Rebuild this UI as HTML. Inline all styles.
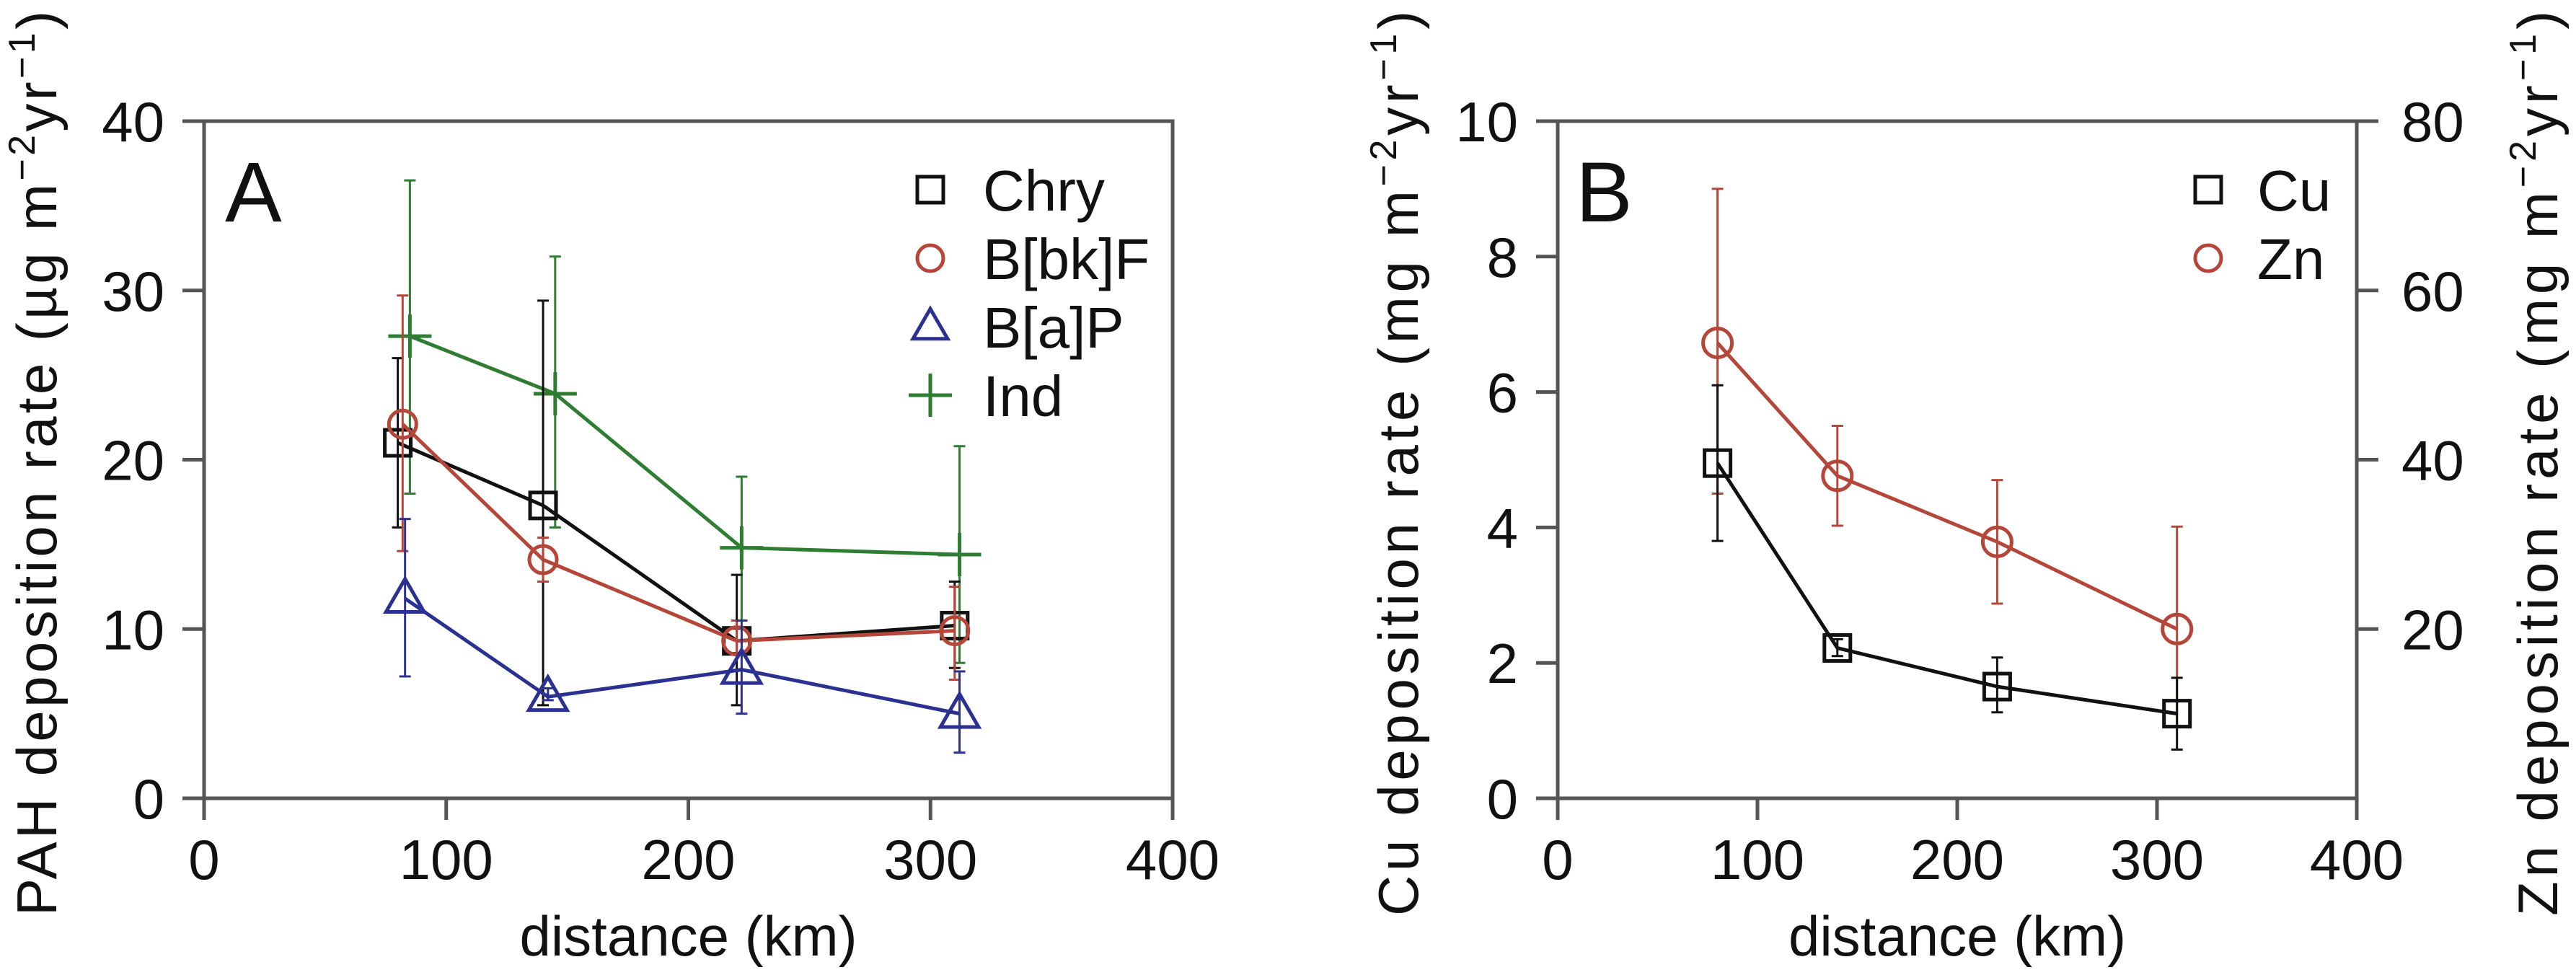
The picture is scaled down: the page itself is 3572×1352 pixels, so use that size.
<!DOCTYPE html>
<html><head><meta charset="utf-8"><style>
html,body{margin:0;padding:0;background:#fff}
svg{display:block}
text{font-family:"Liberation Sans",sans-serif;fill:#111}
</style></head><body>
<svg id="chart" width="3572" height="1352" viewBox="0 0 3572 1352" xmlns="http://www.w3.org/2000/svg"></svg>
<script>
// Panel A data
const distA = [[80,140,220,310],[82,140,220,310],[83,142,222,312],[85,145,222,312]];
const seriesA = ["Chry","B[bk]F","B[a]P","Ind"];
const chry = [21.0,17.3,9.3,10.2];
const chryLo = [16,5.5,5.5,7.7];
const chryHi = [26,29.4,13.2,12.8];
const bbkf = [22.1,14.1,9.3,9.9];
const bbkfLo = [14.6,12.8,8.5,7.0];
const bbkfHi = [29.7,15.4,10.5,12.5];
const bap = [11.8,6.0,7.6,5.0];
const bapLo = [7.2,5.8,5.0,2.7];
const bapHi = [16.5,6.5,10.5,7.5];
const ind = [27.3,23.9,14.8,14.4];
const indLo = [18,16,10.5,8.0];
const indHi = [36.5,32,19,20.8];
const ticksAx = [0,100,200,300,400];
const ticksAy = [0,10,20,30,40];
// Panel B data
const distB = [80,140,220,310];
const cu = [4.95,2.22,1.65,1.25];
const cuLo = [3.8,2.1,1.27,0.72];
const cuHi = [6.1,2.35,2.08,1.78];
const zn = [53.8,38.1,30.3,20.0];
const znLo = [36,32.2,23,8.5];
const znHi = [72,44,37.6,32.1];
const ticksBy = [0,2,4,6,8,10];
const ticksBy2 = [20,40,60,80];

const NS="http://www.w3.org/2000/svg";
const svg=document.getElementById('chart');
function el(tag,attrs,parent,txt){const e=document.createElementNS(NS,tag);for(const k in attrs)e.setAttribute(k,attrs[k]);if(txt!==undefined)e.textContent=txt;(parent||svg).appendChild(e);return e;}

const A={x0:283,x1:1626,y0:1107,y1:168,xmax:400,ymax:40};
const B={x0:2160,x1:3268,y0:1107,y1:168,xmax:400,ymax:10,y2max:80};
function sx(p,v){return p.x0+(p.x1-p.x0)*v/p.xmax;}
function sy(p,v,m){return p.y0-(p.y0-p.y1)*v/(m||p.ymax);}

function frame(p,name){
  const r=el('rect',{x:p.x0,y:p.y1,width:p.x1-p.x0,height:p.y0-p.y1,fill:'none',stroke:'#555','stroke-width':5});
  
  
}
function marker(g,type,x,y,color,s){
  let m;
  if(type==='sq') m=el('rect',{x:x-s/2,y:y-s/2,width:s,height:s,fill:'none',stroke:color,'stroke-width':5},g);
  else if(type==='ci') m=el('circle',{cx:x,cy:y,r:s/2,fill:'none',stroke:color,'stroke-width':5},g);
  else if(type==='tr') m=el('polygon',{points:`${x},${y-s*0.62} ${x-s*0.6},${y+s*0.42} ${x+s*0.6},${y+s*0.42}`,fill:'none',stroke:color,'stroke-width':5},g);
  else m=el('path',{d:`M${x-s*0.75},${y}H${x+s*0.75}M${x},${y-s*0.75}V${y+s*0.75}`,fill:'none',stroke:color,'stroke-width':5},g);
  
  
}
function series(p,name,xs,ys,lo,hi,color,type,size,m){
  const g=el('g',{});
  
  
  let d='';
  xs.forEach((xv,i)=>{d+=(i?'L':'M')+sx(p,xv)+','+sy(p,ys[i],m);});
  if(type==='pl'){ d+='L'+sx(p,xs[xs.length-1]+8)+','+sy(p,ys[ys.length-1],m); }
  const ln=el('path',{d:d,fill:'none',stroke:color,'stroke-width':5},g);
  
  
  xs.forEach((xv,i)=>{
    const x=sx(p,xv);
    const eb=el('path',{d:`M${x},${sy(p,lo[i],m)}V${sy(p,hi[i],m)}M${x-8},${sy(p,lo[i],m)}H${x+8}M${x-8},${sy(p,hi[i],m)}H${x+8}`,fill:'none',stroke:color,'stroke-width':3},g);
    
    
    marker(g,type,x,sy(p,ys[i],m),color,size);
  });
}
function axes(p,name,xt,yt){
  frame(p,name);
  xt.forEach(v=>{const x=sx(p,v);
    const t=el('line',{x1:x,y1:p.y0,x2:x,y2:p.y0+30,stroke:'#555','stroke-width':5});
    
    const l=el('text',{x:x,y:p.y0+112,'font-size':78,'text-anchor':'middle'},svg,String(v));
    
  });
  yt.forEach(v=>{const y=sy(p,v);
    const t=el('line',{x1:p.x0-30,y1:y,x2:p.x0,y2:y,stroke:'#555','stroke-width':5});
    
    const l=el('text',{x:p.x0-55,y:y+28,'font-size':78,'text-anchor':'end'},svg,String(v));
    
  });
  const xl=el('text',{x:(p.x0+p.x1)/2,y:1325,'font-size':78,'text-anchor':'middle'},svg,'distance (km)');
  
}
function ytitle(x,main,unitPrefix,name){
  const t=el('text',{transform:`translate(${x},1270) rotate(-90)`,'font-size':78,'textLength':1255,'lengthAdjust':'spacing'});
  
  el('tspan',{},t,main+'  (');
  el('tspan',{},t,unitPrefix+'  m');
  el('tspan',{dy:-30,'font-size':52},t,'−2');
  el('tspan',{dy:30},t,'yr');
  el('tspan',{dy:-30,'font-size':52},t,'−1');
  el('tspan',{dy:30},t,')');
}

// Panel A
axes(A,'panel-a',ticksAx,ticksAy);
ytitle(78,'PAH  deposition  rate','µg','panel-a-y-axis-title');
const la=el('text',{x:312,y:307,'font-size':118},svg,'A');

series(A,'ind',distA[3],ind,indLo,indHi,'#2f7d32','pl',40);
series(A,'chry',distA[0],chry,chryLo,chryHi,'#111','sq',36);
series(A,'bbkf',distA[1],bbkf,bbkfLo,bbkfHi,'#b5473a','ci',38);
series(A,'bap',distA[2],bap,bapLo,bapHi,'#2b3190','tr',44);
const colsA=['#111','#b5473a','#2b3190','#2f7d32'],typA=['sq','ci','tr','pl'],sizA=[36,36,40,40];
seriesA.forEach((s,i)=>{
  const g=el('g',{});
  
  
  const y=263+95*i;
  marker(g,typA[i],1290,y,colsA[i],sizA[i]);
  el('text',{x:1363,y:y+29,'font-size':80},g,s);
});

// Panel B
axes(B,'panel-b',ticksAx,ticksBy);
ticksBy2.forEach(v=>{const y=sy(B,v,B.y2max);
  const t=el('line',{x1:B.x1,y1:y,x2:B.x1+30,y2:y,stroke:'#555','stroke-width':5});
  
  const l=el('text',{x:B.x1+62,y:y+28,'font-size':78},svg,String(v));
  
});
ytitle(1966,'Cu  deposition  rate','mg','panel-b-y-axis-title');
ytitle(3546,'Zn  deposition  rate','mg','panel-b-right-y-axis-title');
const lb=el('text',{x:2185,y:307,'font-size':118},svg,'B');

series(B,'zn',distB,zn,znLo,znHi,'#b5473a','ci',40,B.y2max);
series(B,'cu',distB,cu,cuLo,cuHi,'#111','sq',36);
[['Cu','#111','sq'],['Zn','#b5473a','ci']].forEach((e,i)=>{
  const g=el('g',{});
  
  
  const y=263+95*i;
  marker(g,e[2],3062,y,e[1],36);
  el('text',{x:3130,y:y+29,'font-size':80},g,e[0]);
});
</script>
</body></html>
